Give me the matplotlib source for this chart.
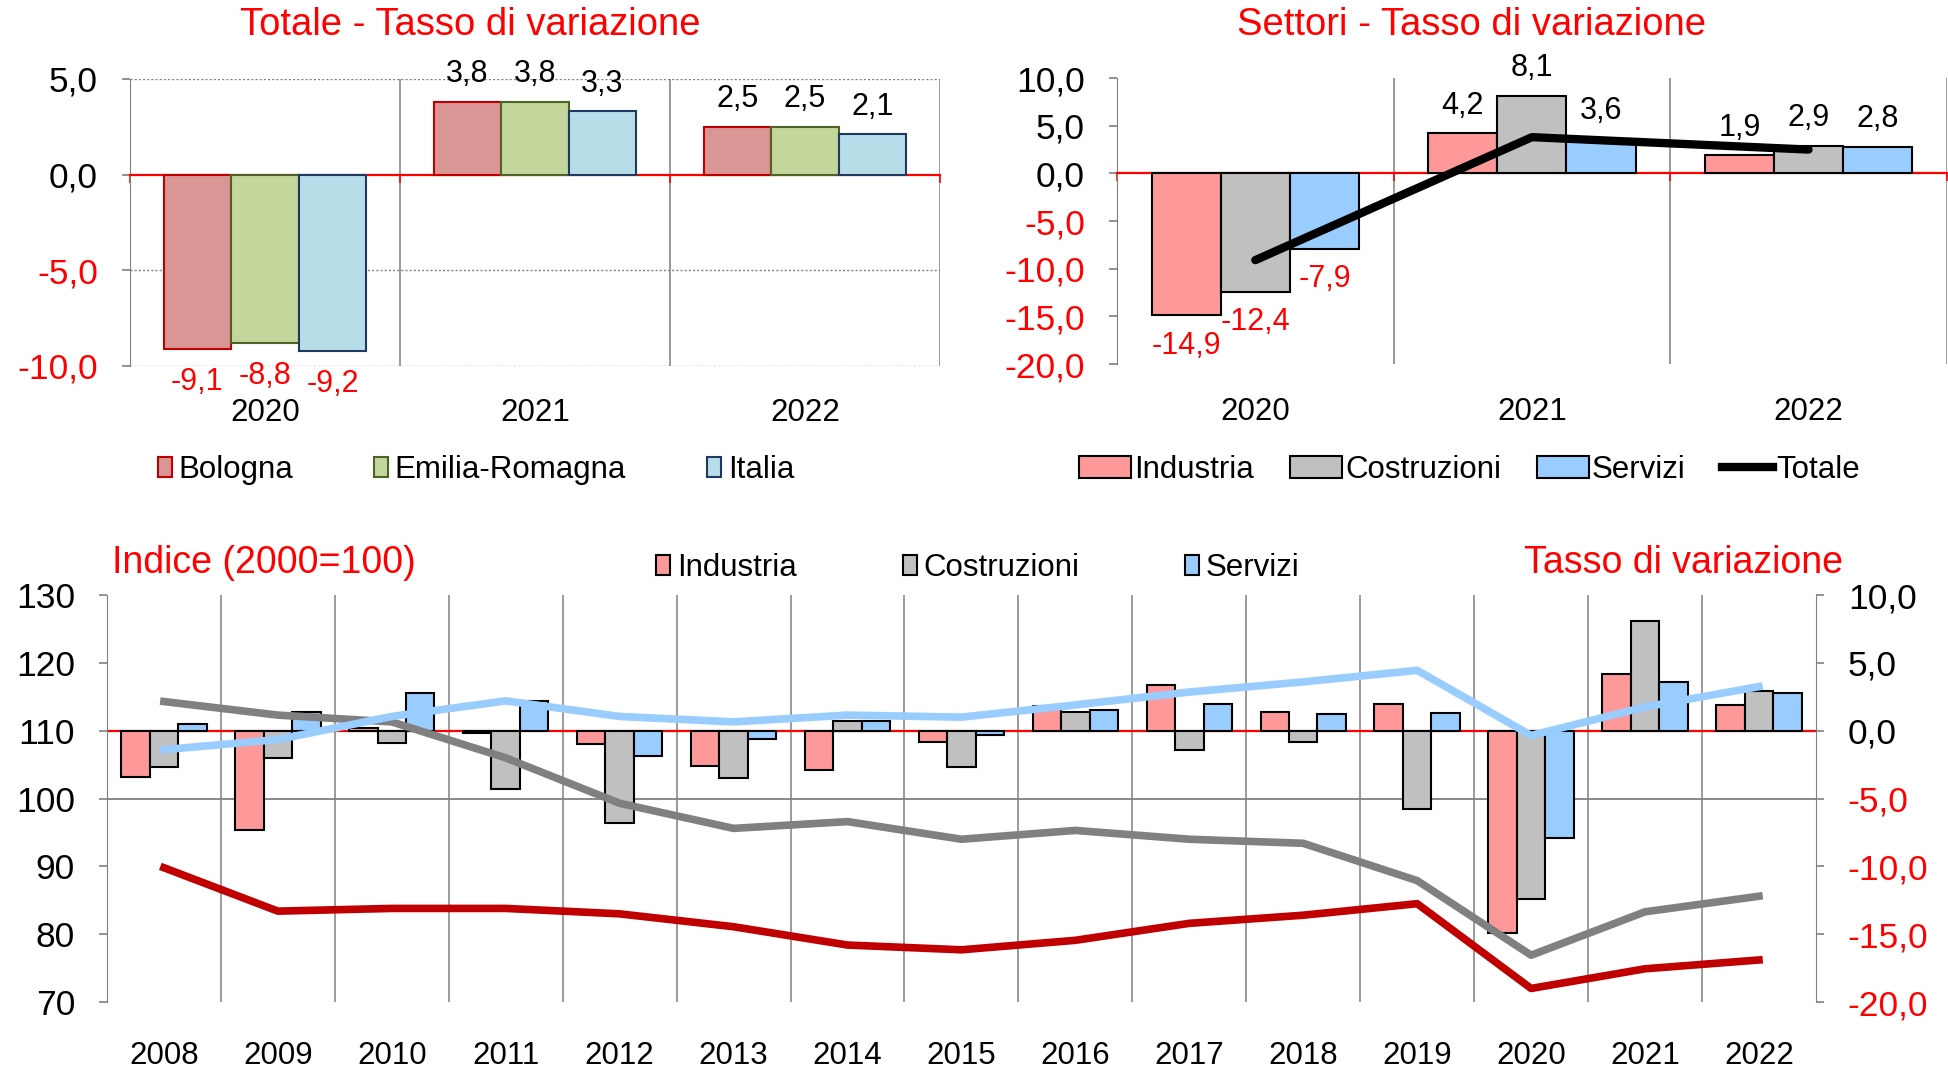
import matplotlib
matplotlib.use("Agg")
import matplotlib.pyplot as plt
from matplotlib.patches import Patch
from matplotlib.lines import Line2D

plt.rcParams["font.family"] = ["Liberation Sans", "DejaVu Sans"]

RED = "#FF0000"
GRID = "#808080"

# top-left: totale, tasso di variazione
YEARS_TOP = ["2020", "2021", "2022"]
TOT_BO = [-9.1, 3.8, 2.5]
TOT_ER = [-8.8, 3.8, 2.5]
TOT_IT = [-9.2, 3.3, 2.1]

# top-right: settori, tasso di variazione
SET_IND = [-14.9, 4.2, 1.9]
SET_COS = [-12.4, 8.1, 2.9]
SET_SER = [-7.9, 3.6, 2.8]
SET_TOT = [-9.1, 3.8, 2.5]

# bottom: 2008-2022
YEARS = [str(y) for y in range(2008, 2023)]
VAR_IND = [-3.4, -7.3, 0.2, -0.2, -1.0, -2.6, -2.9, -0.8, 1.8, 3.4, 1.4, 2.0, -14.9, 4.2, 1.9]
VAR_COS = [-2.7, -2.0, -0.9, -4.3, -6.8, -3.5, 0.7, -2.7, 1.4, -1.4, -0.8, -5.8, -12.4, 8.1, 2.9]
VAR_SER = [0.5, 1.4, 2.8, 2.2, -1.9, -0.6, 0.7, -0.3, 1.5, 2.0, 1.2, 1.3, -7.9, 3.6, 2.8]
IDX_IND = [89.8, 83.4, 83.8, 83.8, 83.0, 81.1, 78.4, 77.7, 79.1, 81.6, 82.8, 84.5, 72.0, 74.9, 76.2]
IDX_COS = [114.3, 112.3, 111.3, 106.0, 99.3, 95.6, 96.6, 94.0, 95.3, 94.0, 93.4, 87.9, 76.9, 83.3, 85.6]
IDX_SER = [107.2, 108.7, 112.1, 114.4, 112.1, 111.3, 112.3, 112.0, 113.8, 115.7, 117.2, 118.9, 109.3, 113.5, 116.5]


def fmt(v):
    return f"{v:.1f}".replace(".", ",")


def style_yticks(ax, ticks):
    ax.set_yticks(ticks)
    ax.set_yticklabels([fmt(t) for t in ticks])
    for lab, t in zip(ax.get_yticklabels(), ticks):
        lab.set_color(RED if t < 0 else "black")


def bar_labels(ax, xs, vals, up, down):
    for x, v in zip(xs, vals):
        off = up if v >= 0 else -down
        ax.annotate(fmt(v), (x, v), xytext=(0, off), textcoords="offset points",
                    ha="center", va="center", fontsize=22,
                    color="black" if v >= 0 else RED)


def zero_axis(ax, n):
    ax.spines["bottom"].set_position(("data", 0))
    ax.spines["bottom"].set_color(RED)
    ax.spines["bottom"].set_linewidth(1.6)
    ax.set_xticks(range(n + 1))
    ax.tick_params(axis="x", colors=RED, length=6, width=1.2, labelbottom=False)
    for s in ("top", "right"):
        ax.spines[s].set_visible(False)
    ax.spines["left"].set_color(GRID)
    ax.tick_params(axis="y", colors=GRID, length=6, width=1.2, pad=17, labelsize=25.5)


fig = plt.figure(figsize=(19.48, 10.71), dpi=100)

# ---------------- top-left
ax1 = fig.add_axes([0.0667, 0.6583, 0.4158, 0.268])
pos = [i + 0.5 for i in range(3)]
w = 0.25
series1 = [(TOT_BO, "#D99694", "#C00000", "Bologna"),
           (TOT_ER, "#C3D69B", "#4F6228", "Emilia-Romagna"),
           (TOT_IT, "#B7DEE8", "#1F3864", "Italia")]
for k, (vals, fc, ec, lab) in enumerate(series1):
    xs = [p + (k - 1) * w for p in pos]
    ax1.bar(xs, vals, w, color=fc, edgecolor=ec, linewidth=1.5, zorder=3, label=lab)
    bar_labels(ax1, xs, vals, 20, 24)
for y in (5, -5, -10):
    ax1.axhline(y, color=GRID, lw=1.0, ls=(0, (1.5, 1.5)), zorder=1)
for x in (1, 2, 3):
    ax1.axvline(x, color=GRID, lw=1.1, zorder=1)
ax1.set_xlim(0, 3)
ax1.set_ylim(-10, 5)
zero_axis(ax1, 3)
style_yticks(ax1, [-10, -5, 0, 5])
for p, yr in zip(pos, YEARS_TOP):
    ax1.text(p, -0.164, yr, transform=ax1.get_xaxis_transform(), ha="center", va="center", fontsize=22.5)
fig.text(0.2413, 0.9767, "Totale - Tasso di variazione", color=RED, fontsize=27.5, ha="center", va="center")
h1 = [Patch(facecolor=fc, edgecolor=ec, linewidth=1.5) for _, fc, ec, _ in series1]
fig.legend(h1, [s[3] for s in series1], loc="center", bbox_to_anchor=(0.2444, 0.561), ncol=3,
           frameon=False, fontsize=22.5, handlelength=0.45, handleheight=0.6,
           handletextpad=0.2, columnspacing=2.6)

# ---------------- top-right
ax2 = fig.add_axes([0.5734, 0.6601, 0.4260, 0.267])
series2 = [(SET_IND, "#FF9999", "Industria"),
           (SET_COS, "#C0C0C0", "Costruzioni"),
           (SET_SER, "#99CCFF", "Servizi")]
for k, (vals, fc, lab) in enumerate(series2):
    xs = [p + (k - 1) * w for p in pos]
    ax2.bar(xs, vals, w, color=fc, edgecolor="black", linewidth=1.5, zorder=3, label=lab)
    bar_labels(ax2, xs, vals, 20, 22)
ax2.plot(pos, SET_TOT, color="black", lw=6, solid_capstyle="round", zorder=4)
for x in (1, 2, 3):
    ax2.axvline(x, color=GRID, lw=1.1, zorder=1)
ax2.set_xlim(0, 3)
ax2.set_ylim(-20, 10)
zero_axis(ax2, 3)
style_yticks(ax2, [-20, -15, -10, -5, 0, 5, 10])
for p, yr in zip(pos, YEARS_TOP):
    ax2.text(p, -0.168, yr, transform=ax2.get_xaxis_transform(), ha="center", va="center", fontsize=22.5)
fig.text(0.7556, 0.9767, "Settori - Tasso di variazione", color=RED, fontsize=27.5, ha="center", va="center")
h2 = [Patch(facecolor=fc, edgecolor="black", linewidth=1.5) for _, fc, _ in series2]
h2.append(Line2D([0], [0], color="black", lw=6))
fig.legend(h2, [s[2] for s in series2] + ["Totale"], loc="center", bbox_to_anchor=(0.7545, 0.561),
           ncol=4, frameon=False, fontsize=22.5, handlelength=1.66, handleheight=0.7,
           handletextpad=0.1, columnspacing=1.15)

# ---------------- bottom: bars (right axis) + index lines (left axis)
axb = fig.add_axes([0.0549, 0.0644, 0.8773, 0.380])
n = len(YEARS)
posb = [i + 0.5 for i in range(n)]
series3 = [(VAR_IND, "#FF9999", "Industria"),
           (VAR_COS, "#C0C0C0", "Costruzioni"),
           (VAR_SER, "#99CCFF", "Servizi")]
for k, (vals, fc, lab) in enumerate(series3):
    xs = [p + (k - 1) * w for p in posb]
    axb.bar(xs, vals, w, color=fc, edgecolor="black", linewidth=1.5, zorder=3, label=lab)
axb.axhline(0, color=RED, lw=1.6, zorder=2)
axb.axhline(-5, color=GRID, lw=1.3, zorder=1)
for x in range(1, n):
    axb.axvline(x, color=GRID, lw=1.1, zorder=1)
axb.set_xlim(0, n)
axb.set_ylim(-20, 10)
axb.set_xticks([])
for p, yr in zip(posb, YEARS):
    axb.text(p, -0.133, yr, transform=axb.get_xaxis_transform(), ha="center", va="center", fontsize=22.5)

axl = axb.twinx()
axl.plot(posb, IDX_IND, color="#C00000", lw=5.5, zorder=4)
axl.plot(posb, IDX_COS, color="#808080", lw=5.5, zorder=4)
axl.plot(posb, IDX_SER, color="#99CCFF", lw=5.5, zorder=4)
axl.set_ylim(70, 130)
axl.set_yticks(range(70, 131, 10))
axl.set_yticklabels([str(t) for t in range(70, 131, 10)])
axl.yaxis.tick_left()
for s in ("top", "bottom", "right"):
    axl.spines[s].set_visible(False)
axl.spines["left"].set_visible(True)
axl.spines["left"].set_color(GRID)
axl.tick_params(axis="y", colors=GRID, length=6, width=1.2, pad=17, labelsize=25.5, labelcolor="black")

# twinx moves the host ticks to the left; put them back on the right
axb.yaxis.tick_right()
style_yticks(axb, [-20, -15, -10, -5, 0, 5, 10])
for s in ("top", "bottom", "left"):
    axb.spines[s].set_visible(False)
axb.spines["right"].set_visible(True)
axb.spines["right"].set_color(GRID)
axb.tick_params(axis="y", colors=GRID, length=6, width=1.2, pad=17, labelsize=25.5)
for lab, t in zip(axb.get_yticklabels(), [-20, -15, -10, -5, 0, 5, 10]):
    lab.set_color(RED if t < 0 else "black")

fig.text(0.0575, 0.4743, "Indice (2000=100)", color=RED, fontsize=27, ha="left", va="center")
fig.text(0.946, 0.4743, "Tasso di variazione", color=RED, fontsize=27, ha="right", va="center")
h3 = [Patch(facecolor=fc, edgecolor="black", linewidth=1.5) for _, fc, _ in series3]
fig.legend(h3, [s[2] for s in series3], loc="center", bbox_to_anchor=(0.502, 0.4697), ncol=3,
           frameon=False, fontsize=22.5, handlelength=0.45, handleheight=0.6,
           handletextpad=0.2, columnspacing=3.4)

fig.savefig("out.png", dpi=100)
